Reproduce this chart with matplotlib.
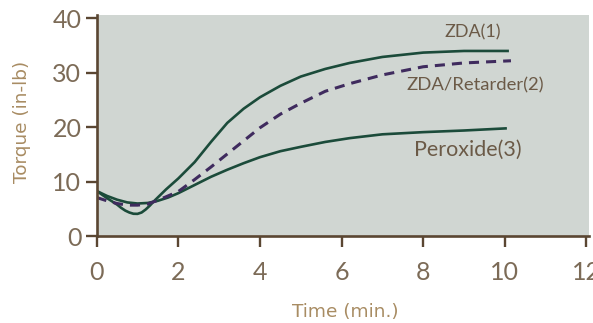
import matplotlib
matplotlib.use('Agg')
import matplotlib.pyplot as plt
from matplotlib import font_manager

# Values
zda_x = [0, 0.25, 0.5, 0.6, 0.7, 0.8, 0.9, 1.0, 1.1, 1.2, 1.3, 1.4, 1.7, 2.0, 2.4, 2.8, 3.2, 3.6, 4.0, 4.5, 5.0, 5.6, 6.2, 7.0, 8.0, 9.0, 10.1]
zda_y = [8.3, 7.0, 5.8, 5.2, 4.7, 4.35, 4.12, 4.1, 4.35, 4.9, 5.6, 6.4, 8.6, 10.6, 13.6, 17.3, 20.8, 23.4, 25.5, 27.6, 29.3, 30.7, 31.8, 32.9, 33.7, 34.0, 34.0]

ret_x = [0, 0.25, 0.5, 0.75, 1.0, 1.25, 1.5, 1.75, 2.0, 2.4, 2.8, 3.2, 3.6, 4.0, 4.5, 5.0, 5.6, 6.2, 7.0, 8.0, 9.0, 10.15]
ret_y = [7.1, 6.5, 6.0, 5.7, 5.7, 5.9, 6.6, 7.4, 8.2, 10.4, 12.7, 15.1, 17.5, 19.9, 22.4, 24.4, 26.6, 28.0, 29.6, 31.1, 31.8, 32.2]

per_x = [0, 0.25, 0.5, 0.75, 1.0, 1.25, 1.5, 1.75, 2.0, 2.4, 2.8, 3.2, 3.6, 4.0, 4.5, 5.0, 5.6, 6.2, 7.0, 8.0, 9.0, 10.05]
per_y = [8.3, 7.4, 6.7, 6.2, 6.0, 6.1, 6.5, 7.1, 7.9, 9.4, 10.9, 12.2, 13.4, 14.5, 15.6, 16.4, 17.3, 18.0, 18.7, 19.1, 19.4, 19.8]

x_ticks = [0, 2, 4, 6, 8, 10, 12]
y_ticks = [0, 10, 20, 30, 40]

labels = ['ZDA(1)', 'ZDA/Retarder(2)', 'Peroxide(3)']
label_pos = [(9.22, 37.5), (9.27, 27.6), (9.1, 15.8)]
label_size = [13, 13.3, 15.5]

GREEN = '#1b4b3a'
PURPLE = '#3f2b5e'
BG = '#d0d6d2'
SPINE = '#5a4632'
TICK_TXT = '#7c6b57'
AXIS_TXT = '#a88c63'
NOTE_TXT = '#6b5a47'

names = {f.name for f in font_manager.fontManager.ttflist}
plt.rcParams['font.family'] = ['Lato' if 'Lato' in names else 'DejaVu Sans', 'DejaVu Sans']

fig = plt.figure(figsize=(5.93, 3.23), dpi=100)
ax = fig.add_axes([96.7 / 593, 1 - 236.2 / 323, (588.5 - 96.7) / 593, (236.2 - 15) / 323])
ax.set_facecolor(BG)

ax.plot(zda_x, zda_y, color=GREEN, lw=1.9, solid_joinstyle='round', solid_capstyle='butt')
ax.plot(per_x, per_y, color=GREEN, lw=1.9, solid_joinstyle='round', solid_capstyle='butt')
ax.plot(ret_x, ret_y, color=PURPLE, lw=2.2, dashes=(3.3, 2.3))

for txt, (tx, ty), fs in zip(labels, label_pos, label_size):
    ax.text(tx, ty, txt, color=NOTE_TXT, fontsize=fs, ha='center', va='center')

ax.set_xlim(0, 12.05)
ax.set_ylim(0, 40.6)
ax.set_xticks(x_ticks)
ax.set_yticks(y_ticks)

for side in ['top', 'right']:
    ax.spines[side].set_visible(False)
for side in ['left', 'bottom']:
    ax.spines[side].set_color(SPINE)
    ax.spines[side].set_linewidth(1.9)

ax.tick_params(axis='both', colors=SPINE, width=1.7, length=8, labelcolor=TICK_TXT, labelsize=18)
ax.tick_params(axis='x', pad=10)
ax.tick_params(axis='y', pad=3)

# axis titles are wider in the reference, DejaVu Sans fits that better
fig.text(22 / 593, 1 - 122 / 323, 'Torque (in-lb)', color=AXIS_TXT, fontsize=13.3,
         family='DejaVu Sans', rotation=90, ha='center', va='center')
fig.text(345 / 593, 1 - 312 / 323, 'Time (min.)', color=AXIS_TXT, fontsize=13.3,
         family='DejaVu Sans', ha='center', va='center')

fig.savefig('out.png', dpi=100)
